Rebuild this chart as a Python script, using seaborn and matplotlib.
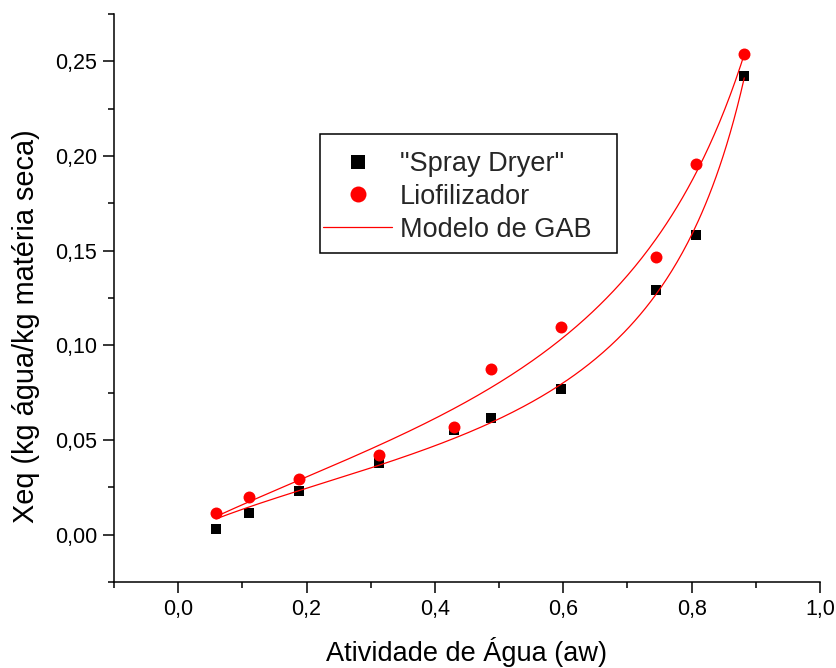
import numpy as np
import pandas as pd
import matplotlib
matplotlib.use("Agg")
import matplotlib.pyplot as plt
import seaborn as sns
from matplotlib.ticker import MultipleLocator, FuncFormatter
from matplotlib.lines import Line2D
from matplotlib.patches import Rectangle

# Water activity of the saturated salt solutions
aw = [0.059, 0.110, 0.188, 0.313, 0.430, 0.487, 0.597, 0.744, 0.807, 0.882]

# Equilibrium moisture (kg water / kg dry matter)
xeq_spray = [0.0030, 0.0113, 0.0231, 0.0377, 0.0553, 0.0615, 0.0770, 0.1290, 0.1582, 0.2423]
xeq_lio = [0.0113, 0.0201, 0.0294, 0.0421, 0.0571, 0.0876, 0.1099, 0.1469, 0.1956, 0.2541]

# GAB parameters (Xm, C, K) for each drying method
gab_spray = (0.041, 4.0, 0.95)
gab_lio = (0.065, 3.0, 0.87)

labels = ['"Spray Dryer"', 'Liofilizador', 'Modelo de GAB']
x_ticks = [0.0, 0.2, 0.4, 0.6, 0.8, 1.0]
y_ticks = [0.00, 0.05, 0.10, 0.15, 0.20, 0.25]


def gab(a, xm, c, k):
    return xm * c * k * a / ((1 - k * a) * (1 - k * a + c * k * a))


sns.set_style("ticks")
plt.rcParams['font.family'] = ['Liberation Sans', 'DejaVu Sans']

fig = plt.figure(figsize=(8.37, 6.68), dpi=100)
ax = fig.add_axes([114 / 837, 86 / 668, 706 / 837, 568 / 668])

pts = pd.DataFrame({"aw": aw, "spray": xeq_spray, "lio": xeq_lio})
sns.scatterplot(data=pts, x="aw", y="spray", marker="s", s=62, color="black",
                linewidth=0, ax=ax, zorder=3)
sns.scatterplot(data=pts, x="aw", y="lio", marker="o", s=74, color="#ff0000",
                linewidth=0, ax=ax, zorder=3)

grid = np.linspace(aw[0], aw[-1], 300)
curves = pd.DataFrame({"aw": grid,
                       "spray": gab(grid, *gab_spray),
                       "lio": gab(grid, *gab_lio)})
sns.lineplot(data=curves, x="aw", y="spray", color="#ff0000", lw=0.9, ax=ax, zorder=4)
sns.lineplot(data=curves, x="aw", y="lio", color="#ff0000", lw=0.9, ax=ax, zorder=4)

ax.set_xlim(-0.1, 1.0)
ax.set_ylim(-0.025, 0.275)
ax.set_xticks(x_ticks)
ax.set_yticks(y_ticks)
ax.xaxis.set_minor_locator(MultipleLocator(0.1))
ax.yaxis.set_minor_locator(MultipleLocator(0.025))
ax.xaxis.set_major_formatter(FuncFormatter(lambda v, p: f"{v:.1f}".replace(".", ",")))
ax.yaxis.set_major_formatter(FuncFormatter(lambda v, p: f"{v:.2f}".replace(".", ",")))

for side in ("top", "right"):
    ax.spines[side].set_visible(False)
for side in ("left", "bottom"):
    ax.spines[side].set_linewidth(1.1)
    ax.spines[side].set_color("black")

ax.tick_params(which="major", direction="out", length=8, width=1.1, color="black",
               labelsize=15.5, pad=4, labelcolor="black")
ax.tick_params(which="minor", direction="out", length=4, width=1.1, color="black")

ax.set_xlabel("Atividade de Água (aw)", fontsize=19.5, color="black")
ax.set_ylabel("Xeq (kg água/kg matéria seca)", fontsize=20.8, color="black")
ax.xaxis.set_label_coords(0.5, -0.097)
ax.yaxis.set_label_coords(-0.105, 0.45)

handles = [
    Line2D([], [], marker="s", ls="none", color="black", ms=10, mew=0),
    Line2D([], [], marker="o", ls="none", color="#ff0000", ms=11.5, mew=0),
    Line2D([], [], color="#ff0000", lw=0.9),
]
ax.legend(handles, labels, loc="upper left", bbox_to_anchor=(0.296, 0.7588),
          bbox_transform=ax.transAxes, frameon=False, fontsize=19.5,
          handlelength=2.55, handletextpad=0.3, labelspacing=0.25,
          borderpad=0, borderaxespad=0)
ax.add_patch(Rectangle((0.2918, 0.5792), 0.4207, 0.2095, transform=ax.transAxes,
                       fill=False, ec="black", lw=1.1, zorder=5))

fig.savefig("out.png", dpi=100)
